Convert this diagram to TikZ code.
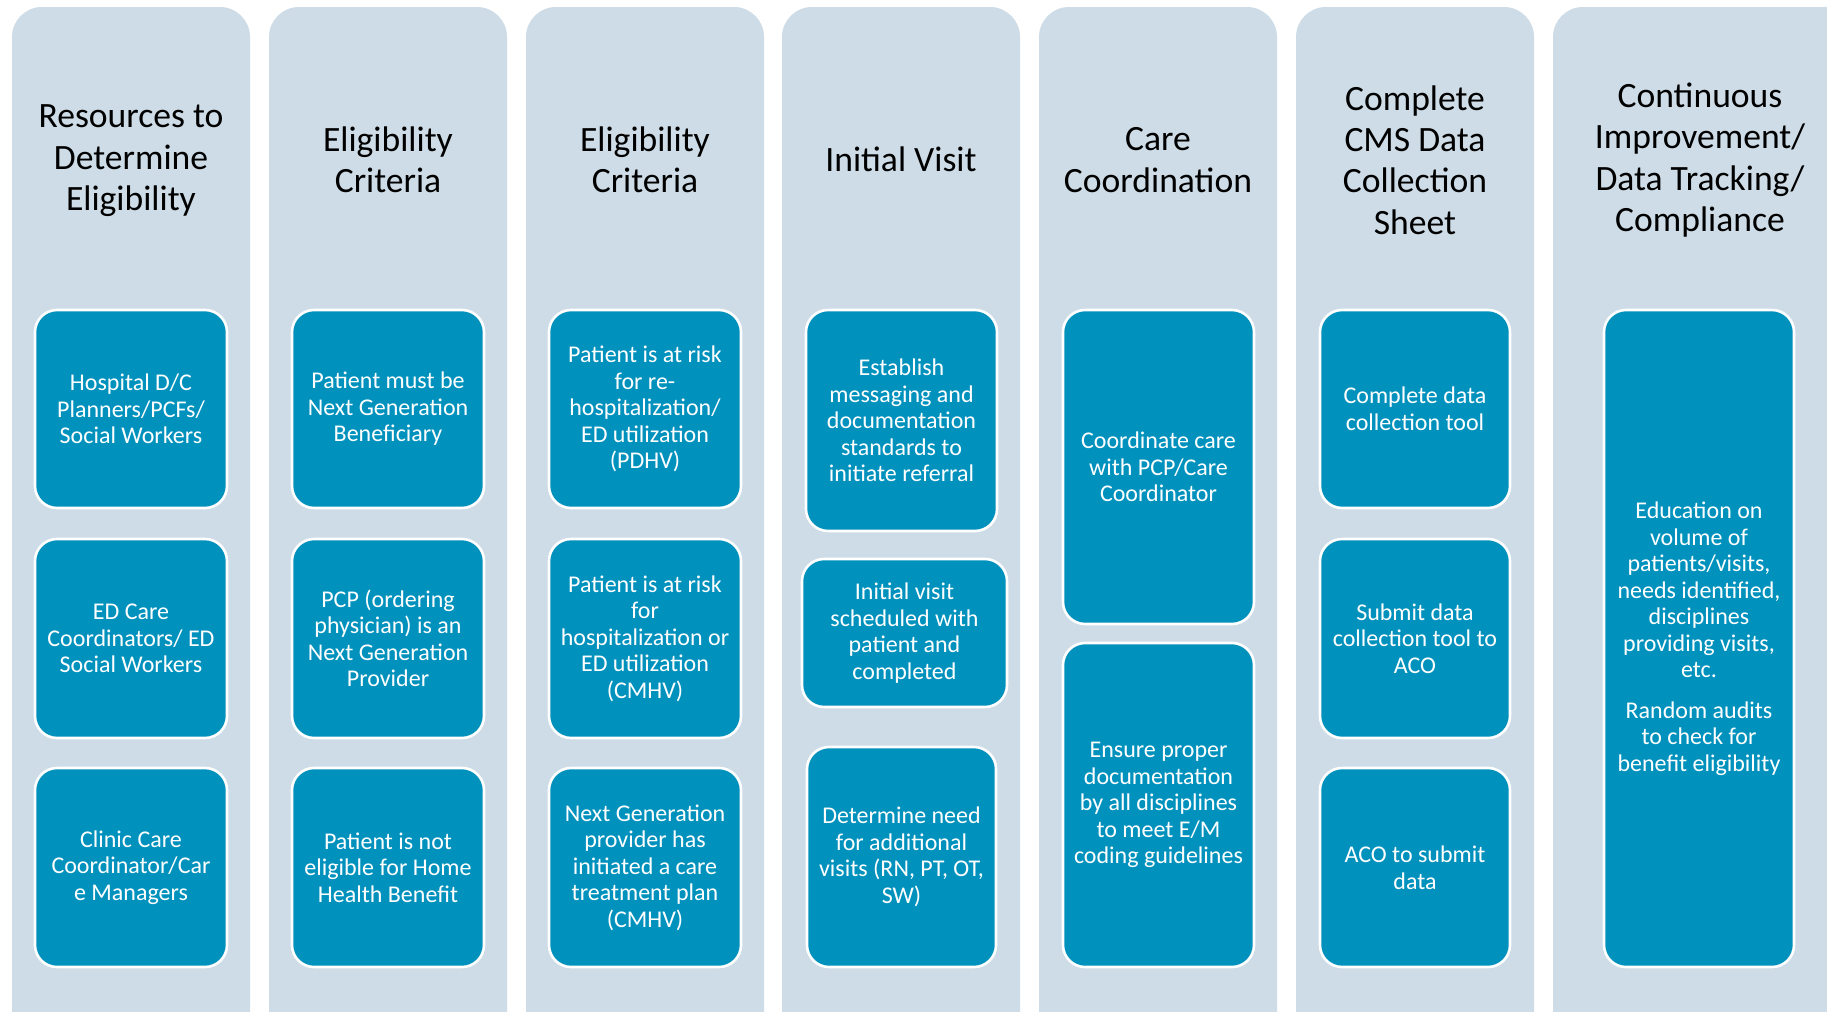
\documentclass[tikz,border=0pt]{standalone}
\usepackage{fontspec}
\setmainfont{Carlito}
\definecolor{colfill}{HTML}{CDDCE6}
\definecolor{boxfill}{HTML}{0091BD}
\newcommand\itembox[6]{\node[item, minimum width={(#4-#2)*0.5pt}, minimum height={(#5-#3)*0.5pt}] (#1) at ({(#2+#4)/2},{(#3+#5)/2}) {#6};}
\begin{document}
\begin{tikzpicture}[x=0.5pt,y=-0.5pt,
  column/.style={fill=colfill, rounded corners=15pt},
  header/.style={align=center, text=black, font=\fontsize{17.8pt}{20.7pt}\selectfont, inner sep=0pt},
  item/.style={fill=boxfill, draw=white, line width=1.3pt, rounded corners=11pt, align=center, text=white, font=\fontsize{12pt}{13.25pt}\selectfont, inner sep=2pt}]
\useasboundingbox (0,0) rectangle (1827,1012);
\clip (0,0) rectangle (1827,1012);
\fill[white] (0,0) rectangle (1827,1012);
% columns
\fill[column] (12,7) rectangle (250,1050);
\fill[column] (269,7) rectangle (507,1050);
\fill[column] (526,7) rectangle (764,1050);
\fill[column] (782,7) rectangle (1020,1050);
\fill[column] (1039,7) rectangle (1277,1050);
\fill[column] (1296,7) rectangle (1534,1050);
\fill[column] (1553,7) rectangle (1870,1050);
% headers
\node[header] (h1) at (131,161) {Resources to\\Determine\\Eligibility};
\node[header] (h2) at (388,160) {Eligibility\\Criteria};
\node[header] (h3) at (645,160) {Eligibility\\Criteria};
\node[header] (h4) at (901,159) {Initial Visit};
\node[header] (h5) at (1158,160) {Care\\Coordination};
\node[header] (h6) at (1415,160) {Complete\\CMS Data\\Collection\\Sheet};
\node[header] (h7) at (1700,160) {Continuous\\Improvement/\\Data Tracking/\\Compliance};
% column 1
\itembox{a1}{35}{310}{227}{508}{Hospital D/C\\Planners/PCFs/\\Social Workers}
\itembox{a2}{35}{539}{227}{738}{ED Care\\Coordinators/ ED\\Social Workers}
\itembox{a3}{35}{768}{227}{967}{Clinic Care\\Coordinator/Car\\e Managers}
% column 2
\itembox{b1}{292}{310}{484}{508}{Patient must be\\Next Generation\\Beneficiary}
\itembox{b2}{292}{539}{484}{738}{PCP (ordering\\physician) is an\\Next Generation\\Provider}
\itembox{b3}{292}{768}{484}{967}{Patient is not\\eligible for Home\\Health Benefit}
% column 3
\itembox{c1}{549}{310}{741}{508}{Patient is at risk\\for re-\\hospitalization/\\ED utilization\\(PDHV)}
\itembox{c2}{549}{539}{741}{738}{Patient is at risk\\for\\hospitalization or\\ED utilization\\(CMHV)}
\itembox{c3}{549}{768}{741}{967}{Next Generation\\provider has\\initiated a care\\treatment plan\\(CMHV)}
% column 4
\itembox{d1}{806}{310}{997}{531}{Establish\\messaging and\\documentation\\standards to\\initiate referral}
\itembox{d2}{802}{559}{1007}{707}{Initial visit\\scheduled with\\patient and\\completed}
\itembox{d3}{807}{747}{996}{967}{Determine need\\for additional\\visits (RN, PT, OT,\\SW)}
% column 5
\itembox{e1}{1063}{310}{1254}{624}{Coordinate care\\with PCP/Care\\Coordinator}
\itembox{e2}{1063}{643}{1254}{967}{Ensure proper\\documentation\\by all disciplines\\to meet E/M\\coding guidelines}
% column 6
\itembox{f1}{1320}{310}{1510}{508}{Complete data\\collection tool}
\itembox{f2}{1320}{539}{1510}{738}{Submit data\\collection tool to\\ACO}
\itembox{f3}{1320}{768}{1510}{967}{ACO to submit\\data}
% column 7
\itembox{g1}{1604}{310}{1794}{967}{Education on\\volume of\\patients/visits,\\needs identified,\\disciplines\\providing visits,\\etc.\\[7pt]Random audits\\to check for\\benefit eligibility}
\end{tikzpicture}
\end{document}
